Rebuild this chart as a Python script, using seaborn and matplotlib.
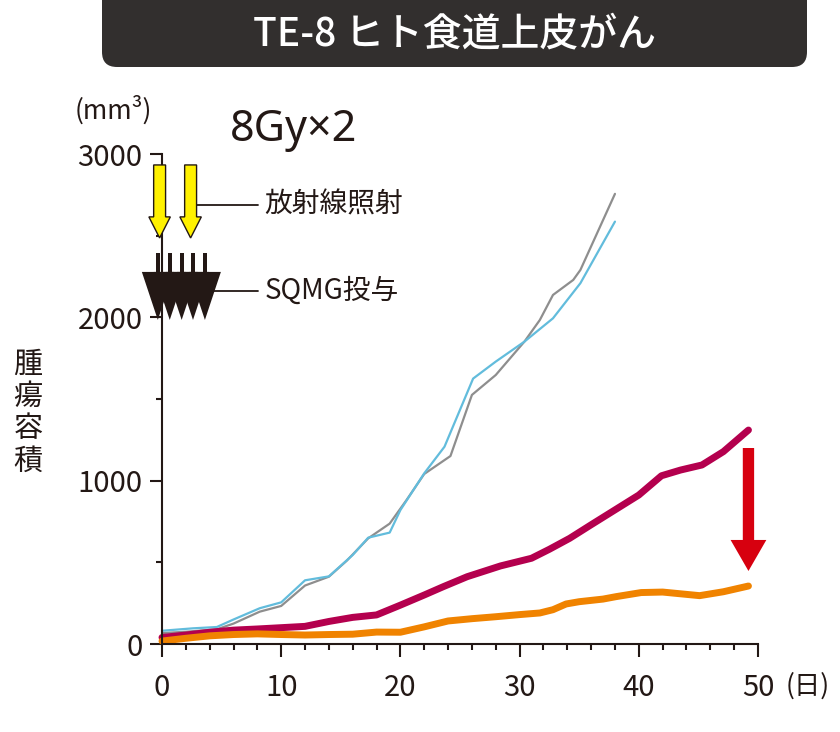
import numpy as np
import seaborn as sns
import matplotlib.pyplot as plt
from matplotlib.patches import FancyArrow, Polygon, Rectangle, FancyBboxPatch
from matplotlib.transforms import IdentityTransform
from matplotlib.ticker import MultipleLocator

# --- data ---
gray_days = [0, 2, 4.6, 6, 8.2, 10, 12, 14, 15.5, 17.3, 19.1, 20.5, 22, 24.2, 26, 28,
             30.4, 31.7, 32.8, 34.5, 35.1, 38]
gray_vol = [67, 75, 90, 125, 198, 233, 358, 412, 510, 647, 737, 880, 1041, 1151, 1525, 1647,
            1851, 1984, 2137, 2229, 2290, 2756]

blue_days = [0, 2.6, 4.6, 6, 8.2, 10, 12, 14, 16, 17.3, 19.1, 20, 22, 23.7, 26.1, 28,
             30.4, 32.8, 35.1, 38]
blue_vol = [81, 96, 104, 150, 219, 255, 390, 414, 545, 651, 682, 820, 1045, 1208, 1625, 1729,
            1851, 1994, 2209, 2586]

rad_days = [0, 2, 4, 6, 8, 10, 12, 14, 16, 18, 20, 22, 23.6, 25.6, 28.4, 31, 32.5, 34.2,
            36, 38, 40, 41.9, 43.5, 45.3, 47.1, 49.2]
rad_vol = [40, 55, 72, 85, 92, 100, 108, 138, 163, 178, 238, 300, 351, 412, 478, 525, 580, 647,
           730, 821, 912, 1030, 1065, 1096, 1178, 1310]

combo_days = [0, 2, 4, 6, 8, 10, 12, 14, 16, 18, 20, 22, 24, 26, 28, 30, 31.7, 32.8, 33.9,
              35, 37, 38.1, 40.2, 42, 45.1, 47.1, 49.2]
combo_vol = [18, 35, 50, 58, 62, 58, 55, 58, 60, 73, 72, 105, 141, 155, 167, 180, 190, 210, 245,
             259, 275, 290, 315, 318, 296, 320, 355]

radiation_days = [-0.2, 2.4]          # 8Gy x 2
sqmg_days = [-0.35, 0.65, 1.65, 2.6, 3.6]

x_ticks = [0, 10, 20, 30, 40, 50]
y_ticks = [0, 1000, 2000, 3000]

sns.set_style('ticks')
plt.rcParams['font.family'] = ['Noto Sans CJK JP', 'DejaVu Sans']

ink = '#231815'
W, H = 840, 732
fig = plt.figure(figsize=(W / 100, H / 100), dpi=100)
ax = fig.add_axes([162 / W, 1 - 644 / H, 596 / W, 490 / H])

sns.lineplot(x=gray_days, y=gray_vol, color='#8e8e8e', lw=1.6, ax=ax, clip_on=False)
sns.lineplot(x=blue_days, y=blue_vol, color='#62bcdc', lw=1.6, ax=ax, clip_on=False)
sns.lineplot(x=rad_days, y=rad_vol, color='#b4004e', lw=5, ax=ax, clip_on=False)
sns.lineplot(x=combo_days, y=combo_vol, color='#f08300', lw=5, ax=ax, clip_on=False)

ax.set_xlim(0, 50)
ax.set_ylim(0, 3000)
ax.set_xticks(x_ticks)
ax.set_yticks(y_ticks)
ax.xaxis.set_minor_locator(MultipleLocator(2))
ax.yaxis.set_minor_locator(MultipleLocator(500))
ax.tick_params(which='major', length=9, width=1.5, color=ink, labelsize=21, labelcolor=ink)
ax.tick_params(which='minor', length=4.5, width=1.5, color=ink)
ax.tick_params(axis='x', pad=12)
ax.tick_params(axis='y', pad=5)
sns.despine(ax=ax)
for s in ['left', 'bottom']:
    ax.spines[s].set_linewidth(1.5)
    ax.spines[s].set_color(ink)
ax.set_xlabel('')
ax.set_ylabel('')

# radiation arrows (yellow)
for d in radiation_days:
    ax.add_patch(FancyArrow(d, 2933, 0, 2486 - 2933, width=1.0, head_width=1.8,
                            head_length=129, length_includes_head=True,
                            fc='#fff100', ec=ink, lw=1, clip_on=False, zorder=6))

# SQMG dosing marks
for d in sqmg_days:
    ax.add_patch(Polygon([(d - 1.34, 2278), (d + 1.34, 2278), (d, 1984)], closed=True,
                         fc=ink, ec='none', clip_on=False, zorder=6))
    ax.add_patch(Rectangle((d - 0.17, 2278), 0.34, 116, fc=ink, ec='none',
                           clip_on=False, zorder=6))

# leader lines and labels
ax.plot([2.9, 8.05], [2688, 2688], color=ink, lw=1.3, clip_on=False)
ax.plot([4.4, 8.05], [2162, 2162], color=ink, lw=1.3, clip_on=False)
ax.text(8.6, 2688, '放射線照射', fontsize=20, color=ink, va='center', ha='left')
ax.text(8.6, 2162, 'SQMG投与', fontsize=20, color=ink, va='center', ha='left')

# red arrow
ax.add_patch(FancyArrow(49.2, 1200, 0, 447 - 1200, width=0.95, head_width=3.0,
                        head_length=190, length_includes_head=True,
                        fc='#d7000f', ec='none', clip_on=False, zorder=6))

# texts around the axes
fig.text(113 / W, 1 - 110 / H, '(mm³)', fontsize=19, color=ink, ha='center', va='center')
fig.text(294 / W, 1 - 130 / H, '8Gy×2', fontsize=31, color=ink, ha='center', va='center',
         family=['Noto Sans', 'DejaVu Sans'])
fig.text(28 / W, 1 - 413 / H, '\n'.join('腫瘍容積'), fontsize=21, color=ink, ha='center',
         va='center', linespacing=1.1)
fig.text(808 / W, 1 - 686 / H, '(日)', fontsize=19, color=ink, ha='center', va='center')

# title bar
fig.add_artist(FancyBboxPatch((102, H - 67), 705, 100, boxstyle='round,pad=0,rounding_size=15',
                              transform=IdentityTransform(), fc='#322f2e', ec='none'))
fig.text(455 / W, 1 - 34 / H, 'TE-8 ヒト食道上皮がん', fontsize=28, color='white',
         ha='center', va='center', weight='medium')

fig.savefig('out.png', dpi=100)
